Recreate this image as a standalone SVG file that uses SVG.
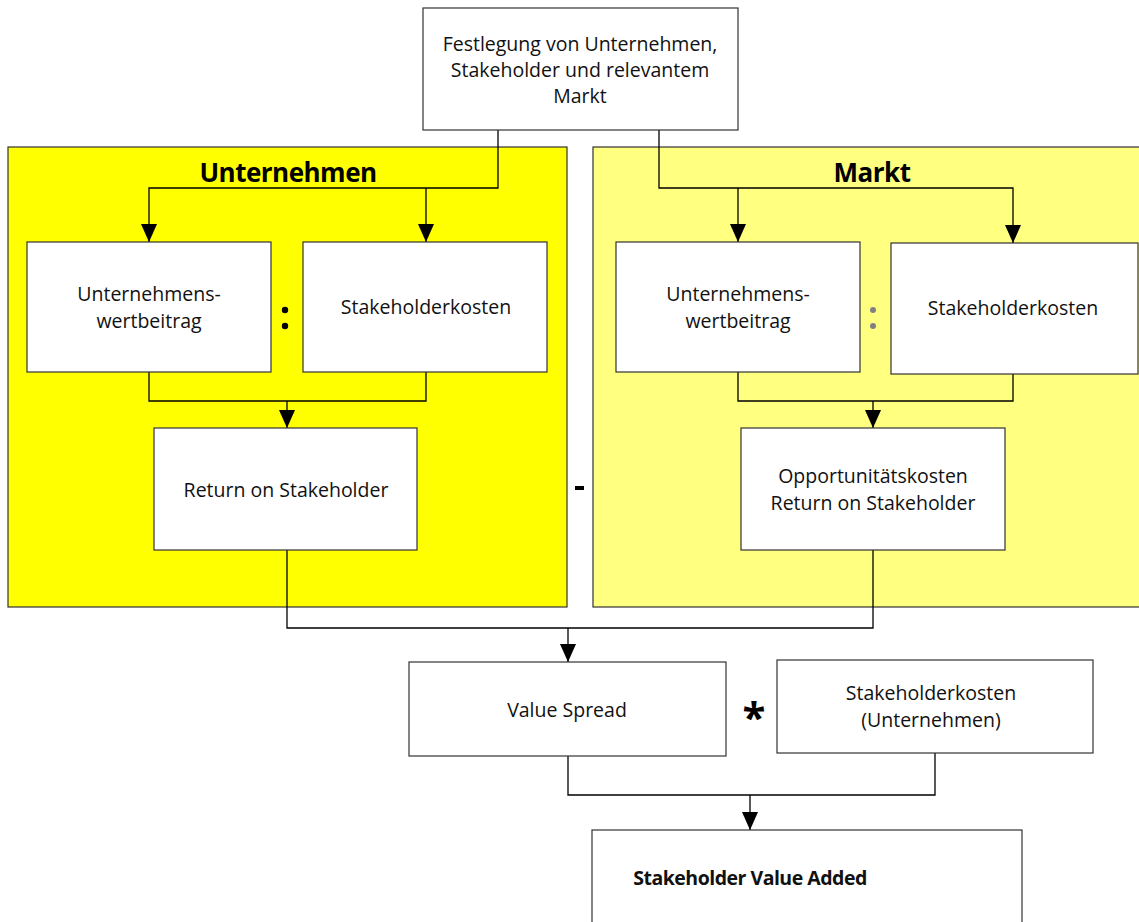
<svg xmlns="http://www.w3.org/2000/svg" width="1139" height="922" viewBox="0 0 1139 922">
<style>
.box{fill:#fff;stroke:#333;stroke-width:1.2}
.t{font-family:"Open Sans","Liberation Sans",sans-serif;font-size:19.5px;fill:#111;text-anchor:middle}
.h{font-family:"Open Sans","Liberation Sans",sans-serif;font-size:26px;font-weight:bold;fill:#000;text-anchor:middle;letter-spacing:-0.5px}
.c{fill:none;stroke:#000;stroke-width:1.3}
.op{font-family:"Open Sans","Liberation Sans",sans-serif;font-weight:bold;fill:#000;text-anchor:middle}
</style>
<defs>
<marker id="ah" viewBox="0 0 18 16" refX="18" refY="8" markerWidth="18" markerHeight="16" markerUnits="userSpaceOnUse" orient="auto">
<path d="M0,0 L18,8 L0,16 Z" fill="#000"/>
</marker>
</defs>
<rect width="1139" height="922" fill="#fff"/>
<g id="panel-unternehmen">
<rect x="8" y="147" width="559" height="460" fill="#ffff00" stroke="#333" stroke-width="1.2"/>
<text class="h" x="288" y="182">Unternehmen</text>
</g>
<g id="panel-markt">
<rect x="593" y="147" width="550" height="460" fill="#ffff80" stroke="#333" stroke-width="1.2"/>
<text class="h" x="872" y="182">Markt</text>
</g>
<g id="connectors">
<path class="c" d="M498,130 V188 H149 V242" marker-end="url(#ah)"/>
<path class="c" d="M426,188 V242" marker-end="url(#ah)"/>
<path class="c" d="M659,130 V188 H1013 V243" marker-end="url(#ah)"/>
<path class="c" d="M738,188 V242" marker-end="url(#ah)"/>
<path class="c" d="M149,372 V401 H426 V372"/>
<path class="c" d="M287,401 V428" marker-end="url(#ah)"/>
<path class="c" d="M738,372 V401 H1013 V374"/>
<path class="c" d="M873,401 V428" marker-end="url(#ah)"/>
<path class="c" d="M287,550 V628 H873 V550"/>
<path class="c" d="M568,628 V662" marker-end="url(#ah)"/>
<path class="c" d="M568,756 V795 H935 V753"/>
<path class="c" d="M750,795 V830" marker-end="url(#ah)"/>
</g>
<g id="n-festlegung">
<rect class="box" x="423" y="8" width="315" height="122"/>
<text class="t" x="580" y="51">Festlegung von Unternehmen,</text>
<text class="t" x="580" y="77">Stakeholder und relevantem</text>
<text class="t" x="580" y="103">Markt</text>
</g>
<g id="n-uwb-u">
<rect class="box" x="27" y="242" width="244" height="130"/>
<text class="t" x="149" y="301">Unternehmens-</text>
<text class="t" x="149" y="328">wertbeitrag</text>
</g>
<g id="n-sk-u">
<rect class="box" x="303" y="242" width="244" height="130"/>
<text class="t" x="426" y="314">Stakeholderkosten</text>
</g>
<g id="op-colon-u">
<circle cx="285" cy="310" r="3.2" fill="#000"/>
<circle cx="285" cy="326" r="3.2" fill="#000"/>
</g>
<g id="n-ros">
<rect class="box" x="154" y="428" width="263" height="122"/>
<text class="t" x="286" y="497">Return on Stakeholder</text>
</g>
<g id="n-uwb-m">
<rect class="box" x="616" y="242" width="244" height="130"/>
<text class="t" x="738" y="301">Unternehmens-</text>
<text class="t" x="738" y="328">wertbeitrag</text>
</g>
<g id="n-sk-m">
<rect class="box" x="891" y="243" width="247" height="131"/>
<text class="t" x="1013" y="315">Stakeholderkosten</text>
</g>
<g id="op-colon-m">
<circle cx="873" cy="310" r="3" fill="#808080"/>
<circle cx="873" cy="326" r="3" fill="#808080"/>
</g>
<g id="n-ok">
<rect class="box" x="741" y="428" width="264" height="122"/>
<text class="t" x="873" y="483">Opportunitätskosten</text>
<text class="t" x="873" y="510">Return on Stakeholder</text>
</g>
<g id="op-minus">
<rect x="575" y="486" width="9" height="4" fill="#000"/>
</g>
<g id="n-vs">
<rect class="box" x="409" y="662" width="317" height="94"/>
<text class="t" x="567" y="717">Value Spread</text>
</g>
<g id="op-times">
<text class="op" x="754" y="732" font-size="42">*</text>
</g>
<g id="n-sku">
<rect class="box" x="777" y="660" width="316" height="93"/>
<text class="t" x="931" y="700">Stakeholderkosten</text>
<text class="t" x="931" y="727">(Unternehmen)</text>
</g>
<g id="n-sva">
<rect class="box" x="592" y="830" width="430" height="100"/>
<text class="t" x="750" y="885" font-weight="bold" style="letter-spacing:-0.5px">Stakeholder Value Added</text>
</g>
</svg>
